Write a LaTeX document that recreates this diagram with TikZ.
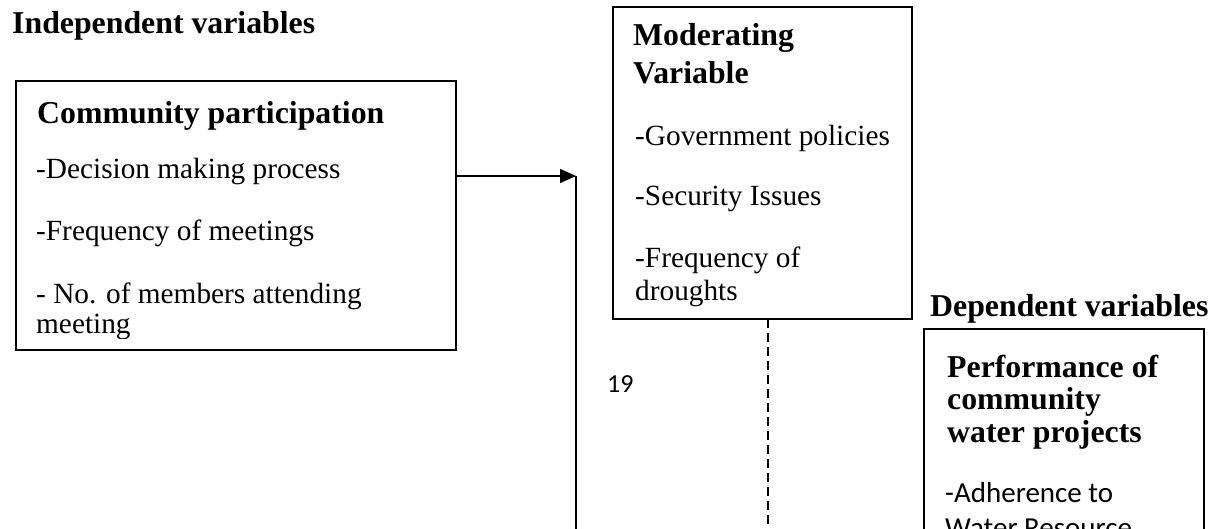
\documentclass[tikz,border=0pt]{standalone}
\usepackage{fontspec}
\setmainfont{Liberation Serif}
\newfontfamily\calibri{Carlito}
\usetikzlibrary{arrows.meta}
\tikzset{
  varbox/.style={draw, line width=1.8pt, anchor=north west, inner sep=0pt, outer sep=0pt},
  head/.style={anchor=base west, inner sep=0pt, font=\fontsize{31.8}{38}\selectfont\bfseries},
  item/.style={anchor=base west, inner sep=0pt, font=\fontsize{29.3}{34}\selectfont},
  sansitem/.style={anchor=base west, inner sep=0pt, font=\calibri\fontsize{29}{34}\selectfont},
  link/.style={line width=1.5pt},
  modlink/.style={dashed, dash pattern=on 9pt off 5pt, line width=1.3pt}
}
\begin{document}
\begin{tikzpicture}[x=1pt, y=-1pt]
\useasboundingbox (0,0) rectangle (1217,528);
\clip (0,0) rectangle (1217,528);
\fill[white] (0,0) rectangle (1217,528);

% titles
\node[head] (indep) at (12,33) {Independent variables};
\node[head] (dep) at (930,316) {Dependent variables};

% boxes
\node[varbox, minimum width=440pt, minimum height=269pt] (box1) at (16,81) {};
\node[varbox, minimum width=299pt, minimum height=312pt] (mod) at (613,7) {};
\node[varbox, minimum width=280pt, minimum height=260pt] (depbox) at (924,329) {};

% box 1 text
\node[head] (cp) at (37,123) {Community participation};
\node[item] (cp1) at (36,178) {-Decision making process};
\node[item] (cp2) at (36,240) {-Frequency of meetings};
\node[item] (cp3) at (36,303) {- No. of members attending};
\begin{scope}
\clip (16,81) rectangle (456,338);
\node[item] (cp4) at (36,333) {meeting};
\end{scope}

% moderating box text
\node[head] (mv) at (633,45) {Moderating};
\node[head] (mv2) at (633,83) {Variable};
\node[item] (mv3) at (635,145) {-Government policies};
\node[item] (mv4) at (635,205) {-Security Issues};
\node[item] (mv5) at (635,267) {-Frequency of};
\node[item] (mv6) at (635,300) {droughts};

% dependent box text
\node[head] (dv1) at (947,377) {Performance of};
\node[head] (dv2) at (947,409.5) {community};
\node[head] (dv3) at (947,442) {water projects};
\node[sansitem] (dv4) at (945,502) {-Adherence to};
\node[sansitem] (dv5) at (945,537) {Water Resource};

% page number
\node[anchor=base west, inner sep=0pt, font=\calibri\fontsize{26}{30}\selectfont] (pg) at (607,392) {19};

% connectors
\coordinate (tip) at (576,176);
\coordinate (vend) at (576,545);
\coordinate (dtop) at (768,319);
\coordinate (dend) at (768,545);
\draw[link, -{Triangle[length=16pt,width=14pt]}] (box1.east |- tip) -- (tip);
\draw[link] (tip) -- (vend);
\draw[modlink] (dtop) -- (dend);
\end{tikzpicture}
\end{document}
